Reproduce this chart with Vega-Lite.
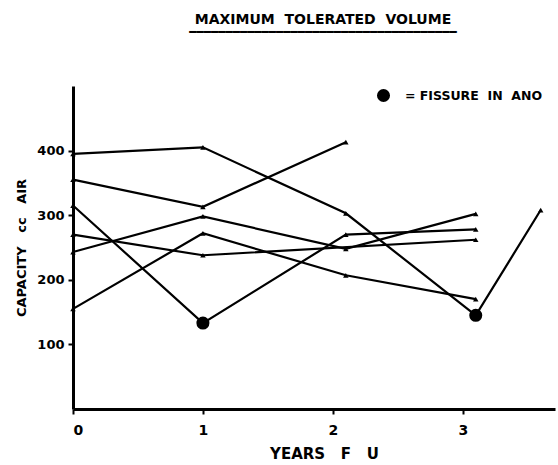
{
  "$schema": "https://vega.github.io/schema/vega-lite/v6.json",
  "width": 482,
  "height": 323,
  "autosize": "none",
  "padding": {"left": 73, "top": 86, "right": 3, "bottom": 56},
  "background": "white",
  "title": {
    "text": "MAXIMUM\u00a0\u00a0TOLERATED\u00a0\u00a0VOLUME",
    "subtitle": "━━━━━━━━━━━━━━━━━━━━━━━━━━━━━━━━━━━━━",
    "subtitleFont": "DejaVu Sans Mono",
    "subtitleFontSize": 12,
    "subtitleColor": "black",
    "subtitlePadding": 0,
    "font": "DejaVu Sans",
    "fontSize": 14,
    "fontWeight": "bold",
    "color": "black",
    "anchor": "middle",
    "dx": 9,
    "offset": 48
  },
  "config": {
    "view": {"stroke": null},
    "axis": {
      "domainColor": "black",
      "domainWidth": 3,
      "tickColor": "black",
      "tickWidth": 2,
      "grid": false,
      "labelFont": "DejaVu Sans",
      "labelFontWeight": "bold",
      "labelColor": "black",
      "titleFont": "DejaVu Sans",
      "titleFontWeight": "bold",
      "titleColor": "black"
    }
  },
  "data": {
    "values": [
      {"s": "A", "year": 0, "cap": 395, "fis": false},
      {"s": "A", "year": 1, "cap": 405, "fis": false},
      {"s": "A", "year": 2.1, "cap": 303, "fis": false},
      {"s": "A", "year": 3.1, "cap": 145, "fis": true},
      {"s": "A", "year": 3.6, "cap": 308, "fis": false},
      {"s": "B", "year": 0, "cap": 355, "fis": false},
      {"s": "B", "year": 1, "cap": 313, "fis": false},
      {"s": "B", "year": 2.1, "cap": 413, "fis": false},
      {"s": "C", "year": 0, "cap": 315, "fis": false},
      {"s": "C", "year": 1, "cap": 133, "fis": true},
      {"s": "C", "year": 2.1, "cap": 270, "fis": false},
      {"s": "C", "year": 3.1, "cap": 278, "fis": false},
      {"s": "D", "year": 0, "cap": 243, "fis": false},
      {"s": "D", "year": 1, "cap": 298, "fis": false},
      {"s": "D", "year": 2.1, "cap": 248, "fis": false},
      {"s": "D", "year": 3.1, "cap": 302, "fis": false},
      {"s": "E", "year": 0, "cap": 270, "fis": false},
      {"s": "E", "year": 1, "cap": 238, "fis": false},
      {"s": "E", "year": 3.1, "cap": 262, "fis": false},
      {"s": "F", "year": 0, "cap": 155, "fis": false},
      {"s": "F", "year": 1, "cap": 272, "fis": false},
      {"s": "F", "year": 2.1, "cap": 207, "fis": false},
      {"s": "F", "year": 3.1, "cap": 170, "fis": false}
    ]
  },
  "encoding": {
    "x": {
      "field": "year", "type": "quantitative",
      "scale": {"domain": [0, 3.71], "nice": false, "zero": false},
      "axis": {
        "values": [0, 1, 2, 3], "format": "d", "title": "YEARS\u00a0\u00a0\u00a0F\u00a0\u00a0\u00a0U",
        "labelFontSize": 14, "labelPadding": 9, "tickSize": 5,
        "titleFontSize": 15, "titlePadding": 9, "titleX": 251
      }
    },
    "y": {
      "field": "cap", "type": "quantitative",
      "scale": {"domain": [0, 500], "nice": false},
      "axis": {
        "values": [100, 200, 300, 400], "title": "CAPACITY\u00a0\u00a0\u00a0cc\u00a0\u00a0\u00a0AIR",
        "labelFontSize": 13, "labelPadding": 4, "tickSize": 5,
        "titleFontSize": 13, "titlePadding": 8
      }
    }
  },
  "layer": [
    {
      "mark": {"type": "line", "color": "black", "strokeWidth": 2.2},
      "encoding": {"detail": {"field": "s"}, "order": {"field": "year"}}
    },
    {
      "transform": [{"filter": "!datum.fis"}],
      "mark": {"type": "point", "shape": "triangle-up", "filled": true, "color": "black", "size": 30, "opacity": 1}
    },
    {
      "transform": [{"filter": "datum.fis"}, {"calculate": "'=\u00a0FISSURE\u00a0\u00a0IN\u00a0\u00a0ANO'", "as": "lg"}],
      "mark": {"type": "point", "filled": true, "color": "black", "size": 170, "opacity": 1},
      "encoding": {
        "shape": {
          "field": "lg", "type": "nominal",
          "scale": {"range": ["circle"]},
          "legend": {
            "title": null, "orient": "none", "legendX": 303, "legendY": 2,
            "symbolSize": 170, "symbolFillColor": "black", "symbolStrokeColor": "black",
            "labelFont": "DejaVu Sans", "labelFontWeight": "bold", "labelFontSize": 12.5,
            "labelColor": "black", "labelOffset": 14, "labelLimit": 250
          }
        }
      }
    }
  ]
}
